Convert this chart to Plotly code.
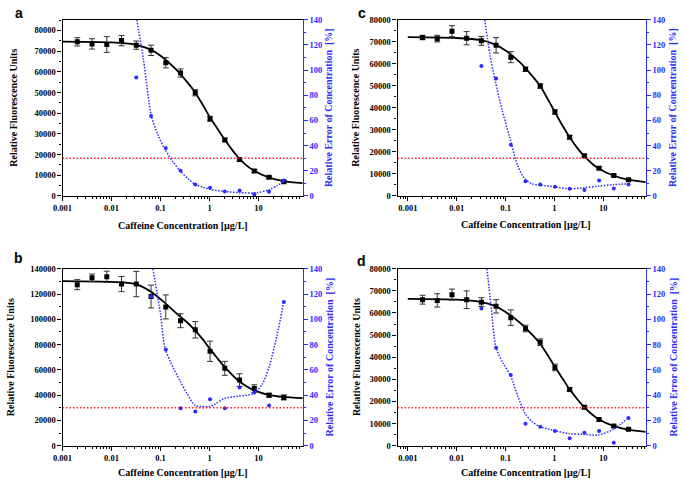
import plotly.graph_objects as go

W, H = 685, 485

# ---------------- data ----------------
conc = [0.002, 0.004, 0.008, 0.016, 0.032, 0.064, 0.128, 0.256, 0.512,
        1.024, 2.048, 4.096, 8.192, 16.384, 32.768]

# panel a
a_rfu = [74500, 73500, 73200, 75100, 72900, 70400, 64400, 59400, 49900,
         37300, 27100, 17600, 12100, 9000, 6900]
a_err = [2000, 2500, 3800, 2500, 2000, 2500, 2500, 2000, 1500, 1200, 800, 700, 700, 600, 600]
a_rel = [None, None, None, None, 94.1, 63.5, 38.1, 20.0, 9.1, 6.5, 3.6, 4.4, 1.3, 3.4, 12.2]

# panel b
b_rfu = [127400, 132800, 133600, 127900, 127900, 118000, 109800, 98900, 91700,
         74700, 61200, 51900, 45200, 40000, 38200]
b_err = [4000, 3000, 4500, 6000, 10000, 9000, 9500, 5500, 6500, 8000, 5500, 5000, 3000, 1500, 2000]
b_rel = [None, None, None, None, None, 118, 76.2, 29.7, 27.1, 36.7, 29.7, 46, 42.1, 31.8, 113.7]

# panel c
c_rfu = [71900, 71400, 74800, 71600, 70400, 68400, 63000, 57500, 49900,
         38100, 26700, 18200, 12600, 9300, 7400]
c_err = [1000, 1500, 2500, 3000, 2000, 3500, 2500, 1000, 1000, 1000, 800, 600, 600, 500, 500]
c_rel = [None, None, None, None, 103.2, 93.3, 40.7, 11.7, 9.1, 7.3, 5.7, 4.7, 12.2, 6.0, 9.1]

# panel d
d_rfu = [66000, 65700, 68300, 66000, 64900, 63000, 57900, 53000, 46800,
         35400, 25400, 17400, 11800, 8900, 7400]
d_err = [2000, 3000, 2500, 4000, 2000, 3000, 3500, 1500, 1500, 1500, 800, 800, 600, 500, 500]
d_rel = [None, None, None, None, 108.5, 77.5, 56, 17.3, 15, 11.6, 5.9, 10.3, 11.6, 2.3, 22]

# fitted (black) curves
fit_x = [0.001, 0.01, 0.03, 0.06, 0.1, 0.2, 0.35, 0.5, 0.75, 1, 1.5, 2, 3, 4, 6, 8, 16, 32, 80]
a_fit = [74600, 74200, 73200, 71000, 67800, 61500, 55000, 50300, 43500, 38300, 32000,
         27500, 21800, 18200, 14300, 12300, 9000, 7200, 6200]
b_fit = [130200, 129600, 128000, 122500, 116000, 105500, 97500, 91500, 83500, 77000, 68500,
         62500, 55500, 51000, 46500, 44000, 40300, 38600, 37600]
c_fit = [72100, 71700, 70800, 68800, 66000, 60500, 54500, 50200, 43500, 38500, 31500,
         27000, 21500, 18300, 14500, 12500, 9300, 7400, 6200]
d_fit = [66400, 66000, 65000, 63200, 60500, 55500, 50200, 46300, 40500, 36000, 30000,
         25800, 20800, 17600, 14000, 12000, 9000, 7300, 6200]

# relative-error (blue dotted) curves
a_err_x = [0.0327, 0.045, 0.065, 0.09, 0.121, 0.18, 0.26, 0.38, 0.52, 0.75, 1.05, 2.3, 4.2, 9.1, 17, 33.6]
a_err_y = [140, 108, 63.5, 48, 37.6, 27, 19.4, 13, 9, 6.8, 5.2, 3.4, 2.6, 2.6, 5.2, 11.7]
b_err_x = [0.07, 0.1, 0.123, 0.18, 0.256, 0.35, 0.5, 0.7, 1.0, 1.3, 2, 4, 8, 12, 16.6, 24, 32.8]
b_err_y = [140, 104, 77.5, 62, 50.5, 41, 32, 31, 31, 33, 37.4, 39.3, 41.3, 49, 63, 88, 114]
c_err_x = [0.0374, 0.048, 0.061, 0.085, 0.119, 0.175, 0.24, 0.35, 0.512, 1, 2, 4, 8, 16, 32]
c_err_y = [140, 112, 92, 68, 48, 24.6, 14.3, 9.6, 8.6, 7.3, 5.7, 6.5, 7.8, 9, 9.6]
d_err_x = [0.0416, 0.05, 0.064, 0.09, 0.128, 0.18, 0.256, 0.35, 0.512, 1, 2, 4, 8, 16, 32]
d_err_y = [140, 112, 77.5, 65, 55, 38.7, 25, 19, 15, 12, 9.6, 9, 8.5, 13, 22]

limit_pct = 30

x_ticks = [0.001, 0.01, 0.1, 1, 10]
x_ticktext = ["0.001", "0.01", "0.1", "1", "10"]

# ---------------- layout helpers ----------------
BLUE = "#2b2bff"
SERIF = "Liberation Serif, Times New Roman, serif"

def px_x(p):
    return p / W

def px_y(p):
    return 1 - p / H

panels = [
    dict(lab="a", rfu=a_rfu, err=a_err, rel=a_rel, fit=a_fit, ex=a_err_x, ey=a_err_y,
         xd=(53.3, 297), yd=(15, 195), xr=(-3.0, 1.90), ymax=85200, dt=10000,
         lp=(9, 8), lt=4, rt=324, bt=(176, 225)),
    dict(lab="c", rfu=c_rfu, err=c_err, rel=c_rel, fit=c_fit, ex=c_err_x, ey=c_err_y,
         xd=(393.3, 645), yd=(15, 195), xr=(-3.21, 1.865), ymax=80000, dt=10000,
         lp=(357, 8), lt=351, rt=673, bt=(524, 224)),
    dict(lab="b", rfu=b_rfu, err=b_err, rel=b_rel, fit=b_fit, ex=b_err_x, ey=b_err_y,
         xd=(53.3, 297), yd=(269.3, 450), xr=(-3.0, 1.90), ymax=140000, dt=20000,
         lp=(9, 258), lt=0, rt=324, bt=(176, 477)),
    dict(lab="d", rfu=d_rfu, err=d_err, rel=d_rel, fit=d_fit, ex=d_err_x, ey=d_err_y,
         xd=(393.3, 645), yd=(269.3, 450), xr=(-3.21, 1.865), ymax=80000, dt=10000,
         lp=(357, 261), lt=351, rt=673, bt=(524, 477)),
]

fig = go.Figure()
layout = dict(
    width=W, height=H, margin=dict(l=0, r=0, t=0, b=0),
    paper_bgcolor="white", plot_bgcolor="white", showlegend=False,
    font=dict(family=SERIF, size=9, color="black"),
)
annotations = []
shapes = []

tickfont_black = dict(family=SERIF, size=8.5, color="black", weight="bold")
tickfont_blue = dict(family=SERIF, size=8.5, color=BLUE, weight="bold")
titlefont = dict(family=SERIF, size=10, weight="bold")

for i, p in enumerate(panels):
    n = i + 1
    xa = "x" if n == 1 else f"x{n}"
    yl_n = 2 * n - 1
    yr_n = 2 * n
    yl = "y" if yl_n == 1 else f"y{yl_n}"
    yr = f"y{yr_n}"
    xkey = "xaxis" if n == 1 else f"xaxis{n}"
    ylkey = "yaxis" if yl_n == 1 else f"yaxis{yl_n}"
    yrkey = f"yaxis{yr_n}"

    xdom = [px_x(p["xd"][0]), px_x(p["xd"][1])]
    ydom = [px_y(p["yd"][1]), px_y(p["yd"][0])]

    layout[xkey] = dict(
        domain=xdom, anchor=yl, type="log", range=list(p["xr"]),
        tickvals=x_ticks, ticktext=x_ticktext, tickfont=tickfont_black,
        showline=True, linecolor="black", linewidth=1.2, mirror=True,
        ticks="outside", ticklen=4, tickcolor="black", tickwidth=1,
        showgrid=False, zeroline=False,
        minor=dict(ticks="outside", ticklen=2, tickcolor="black", dtick="D1", showgrid=False),
    )
    layout[ylkey] = dict(
        domain=ydom, anchor=xa, range=[0, p["ymax"]], dtick=p["dt"],
        tickfont=tickfont_black, showline=True, linecolor="black", linewidth=1.2,
        ticks="outside", ticklen=4, tickcolor="black", tickwidth=1,
        showgrid=False, zeroline=False, tickformat="d",
        minor=dict(ticks="outside", ticklen=2, tickcolor="black", dtick=p["dt"] / 2),
    )
    layout[yrkey] = dict(
        domain=ydom, anchor=xa, overlaying=yl, side="right", range=[0, 140], dtick=20,
        tickfont=tickfont_blue, showline=True, linecolor=BLUE, linewidth=1.2,
        ticks="outside", ticklen=4, tickcolor=BLUE, tickwidth=1,
        showgrid=False, zeroline=False,
        minor=dict(ticks="outside", ticklen=2, tickcolor=BLUE, dtick=10),
    )

    # red limit line
    shapes.append(dict(type="line", xref=f"{xa} domain", yref=yr, x0=0, x1=1,
                       y0=limit_pct, y1=limit_pct,
                       line=dict(color="#ff2020", width=1.5, dash="1.5px,2px")))

    # blue relative-error curve and points
    fig.add_trace(go.Scatter(x=p["ex"], y=p["ey"], xaxis=xa, yaxis=yr, mode="lines",
                             line=dict(color=BLUE, width=1.5, dash="1.5px,1.5px", shape="spline",
                                       smoothing=0.8)))
    fig.add_trace(go.Scatter(x=conc, y=p["rel"], xaxis=xa, yaxis=yr, mode="markers",
                             marker=dict(color=BLUE, size=4, symbol="circle"),
                             cliponaxis=True))

    # fitted curve
    fig.add_trace(go.Scatter(x=fit_x, y=p["fit"], xaxis=xa, yaxis=yl, mode="lines",
                             line=dict(color="black", width=1.8, shape="spline", smoothing=0.8)))
    # data with error bars
    fig.add_trace(go.Scatter(x=conc, y=p["rfu"], xaxis=xa, yaxis=yl, mode="markers",
                             marker=dict(color="black", size=5, symbol="square"),
                             error_y=dict(type="data", array=p["err"], visible=True,
                                          color="#333333", thickness=1, width=3)))

    ymid = (p["yd"][0] + p["yd"][1]) / 2
    annotations.append(dict(text="Relative Fluorescence Units", xref="paper", yref="paper",
                            x=px_x(p["lt"]), y=px_y(ymid), textangle=-90, showarrow=False,
                            xanchor="center", yanchor="middle",
                            font=dict(titlefont, color="black")))
    annotations.append(dict(text="Relative Error of Concentration  [%]", xref="paper", yref="paper",
                            x=px_x(p["rt"]), y=px_y(ymid), textangle=-90, showarrow=False,
                            xanchor="center", yanchor="middle",
                            font=dict(titlefont, color=BLUE)))
    annotations.append(dict(text="Caffeine Concentration [µg/L]", xref="paper", yref="paper",
                            x=px_x(p["bt"][0]), y=px_y(p["bt"][1]), showarrow=False,
                            xanchor="center", yanchor="middle",
                            font=dict(titlefont, color="black")))
    annotations.append(dict(text=p["lab"], xref="paper", yref="paper",
                            x=px_x(p["lp"][0]), y=px_y(p["lp"][1]), showarrow=False,
                            xanchor="center", yanchor="middle",
                            font=dict(family="Liberation Sans", size=14, color="black",
                                      weight="bold")))

layout["annotations"] = annotations
layout["shapes"] = shapes
fig.update_layout(**layout)
fig.write_html("out.html", config={"displayModeBar": False},
               post_script="document.body.style.margin='0';")
